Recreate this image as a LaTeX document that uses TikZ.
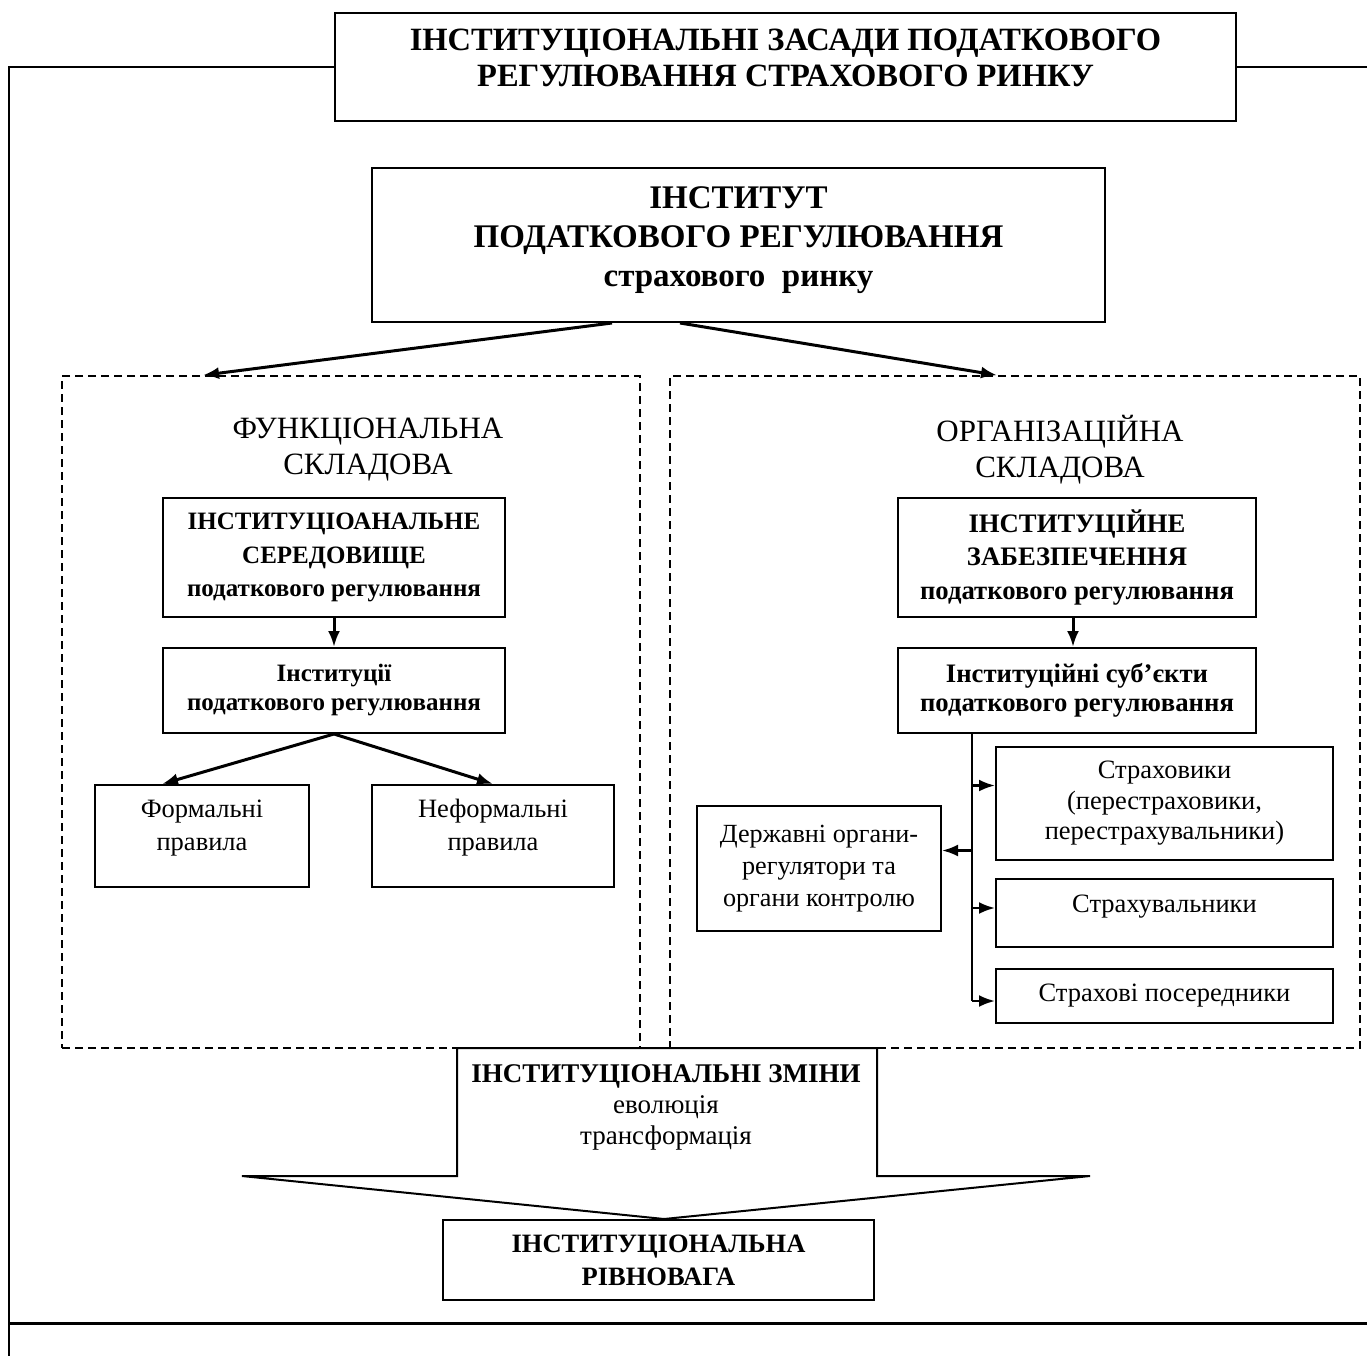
\documentclass[tikz,border=0pt]{standalone}
\usepackage{fontspec}
\setmainfont{Liberation Serif}
\usetikzlibrary{arrows.meta}

\begin{document}
\begin{tikzpicture}[x=1pt, y=-1pt, >={Latex[length=16pt,width=12pt]},
  box/.style={draw, line width=2pt, fill=white, align=center, inner sep=0pt},
  zone/.style={draw, line width=1.6pt, dash pattern=on 8pt off 5pt},
  arr/.style={->, line width=3pt},
  sarr/.style={->, line width=2.5pt},
  bigtxt/.style={font=\fontsize{32.5}{36.5}\selectfont\bfseries, align=center},
  boldtxt/.style={font=\fontsize{26.7}{33.5}\selectfont\bfseries},
  headtxt/.style={font=\fontsize{31}{36}\selectfont, align=center},
  plaintxt/.style={font=\fontsize{26.5}{33}\selectfont, align=center},
  smalltxt/.style={font=\fontsize{26.5}{30.5}\selectfont, align=center}]
  \useasboundingbox (0,0) rectangle (1367,1356);
  % Heading box and outer frame
  \node[box, minimum width=901, minimum height=108,
        label={[bigtxt, yshift=9pt]center:ІНСТИТУЦІОНАЛЬНІ ЗАСАДИ ПОДАТКОВОГО\\РЕГУЛЮВАННЯ СТРАХОВОГО РИНКУ}] (title) at (785.5,67) {};
  \draw[line width=2pt] (title.west) -| (9,1356);
  \draw[line width=2pt] (title.east) -- (1367,67);
  \draw[line width=3pt] (9,1323) -- (1367,1323);
  % Institute
  \node[box, minimum width=733, minimum height=154,
        label={[bigtxt, font=\fontsize{33}{39}\selectfont\bfseries, yshift=5pt]center:ІНСТИТУТ\\ПОДАТКОВОГО РЕГУЛЮВАННЯ\\страхового\ \ ринку}] (inst) at (738.5,245) {};
  % Two dashed parts
  \node[zone, minimum width=578, minimum height=672] (func) at (351,712) {};
  \node[zone, minimum width=690, minimum height=672] (org) at (1015,712) {};
  \draw[arr] ([xshift=-126.5pt]inst.south) -- ([xshift=-148pt]func.north);
  \draw[arr] ([xshift=-58.5pt]inst.south) -- ([xshift=-18pt]org.north);
  \node[headtxt] (funchead) at (368,450) {ФУНКЦІОНАЛЬНА\\СКЛАДОВА};
  \node[headtxt] (orghead) at (1060,450) {ОРГАНІЗАЦІЙНА\\СКЛАДОВА};
  % Functional part
  \node[box, boldtxt, font=\fontsize{25}{33.5}\selectfont\bfseries, minimum width=342, minimum height=119] (env) at (334,557.5)
    {ІНСТИТУЦІОАНАЛЬНЕ\\СЕРЕДОВИЩЕ\\податкового регулювання};
  \node[box, boldtxt, font=\fontsize{25}{29}\selectfont\bfseries, minimum width=342, minimum height=85] (rules) at (334,690.5)
    {Інституції\\податкового регулювання};
  \node[box, minimum width=214, minimum height=102,
        label={[plaintxt, yshift=8pt]center:Формальні\\правила}] (formal) at (202,836) {};
  \node[box, minimum width=242, minimum height=102,
        label={[plaintxt, yshift=8pt]center:Неформальні\\правила}] (informal) at (493,836) {};
  \draw[arr] (env) -- (rules);
  \draw[arr] (rules.south) -- ([xshift=-40pt]formal.north);
  \draw[arr] (rules.south) -- (informal.north);
  % Organisational part
  \node[box, boldtxt, minimum width=358, minimum height=119] (zab) at (1077,557.5)
    {ІНСТИТУЦІЙНЕ\\ЗАБЕЗПЕЧЕННЯ\\податкового регулювання};
  \node[box, boldtxt, font=\fontsize{26.7}{29}\selectfont\bfseries, minimum width=358, minimum height=85] (subj) at (1077,690.5)
    {Інституційні суб’єкти\\податкового регулювання};
  \node[box, smalltxt, minimum width=337, minimum height=113] (insurers) at (1164.5,803.5)
    {Страховики\\(перестраховики,\\перестрахувальники)};
  \node[box, minimum width=337, minimum height=68,
        label={[smalltxt, yshift=6pt]center:Страхувальники}] (holders) at (1164.5,913) {};
  \node[box, smalltxt, minimum width=337, minimum height=54] (brokers) at (1164.5,996)
    {Страхові посередники};
  \node[box, smalltxt, font=\fontsize{26.2}{32}\selectfont, minimum width=244, minimum height=125] (state) at (819,868.5)
    {Державні органи-\\регулятори та\\органи контролю};
  \draw[arr] ([xshift=-4pt]zab.south) -- ([xshift=-4pt]subj.north);
  \coordinate (trunk) at ([xshift=-105pt]subj.south);
  \coordinate (s1) at ([yshift=18pt]insurers.west);
  \coordinate (s2) at ([yshift=18pt]state.east);
  \coordinate (s3) at ([yshift=5pt]holders.west);
  \coordinate (s4) at ([yshift=-5pt]brokers.west);
  \draw[line width=2.5pt] (trunk) -- (trunk |- s4);
  \draw[sarr] (trunk |- s1) -- (s1);
  \draw[sarr] (trunk |- s2) -- (s2);
  \draw[sarr] (trunk |- s3) -- (s3);
  \draw[sarr] (trunk |- s4) -- (s4);
  % Changes arrow and equilibrium
  \draw[line width=2pt, fill=white] (457,1048) -- (457,1176) -- (242,1176) -- (664,1219)
    -- (1090,1176) -- (877,1176) -- (877,1048) -- cycle;
  \node[font=\fontsize{27}{31}\selectfont, align=center] (changes) at (666,1107)
    {\textbf{ІНСТИТУЦІОНАЛЬНІ ЗМІНИ}\\еволюція\\трансформація};
  \node[box, font=\fontsize{26.5}{33}\selectfont\bfseries, minimum width=431, minimum height=80] (eq) at (658.5,1260)
    {ІНСТИТУЦІОНАЛЬНА\\РІВНОВАГА};
\end{tikzpicture}
\end{document}
